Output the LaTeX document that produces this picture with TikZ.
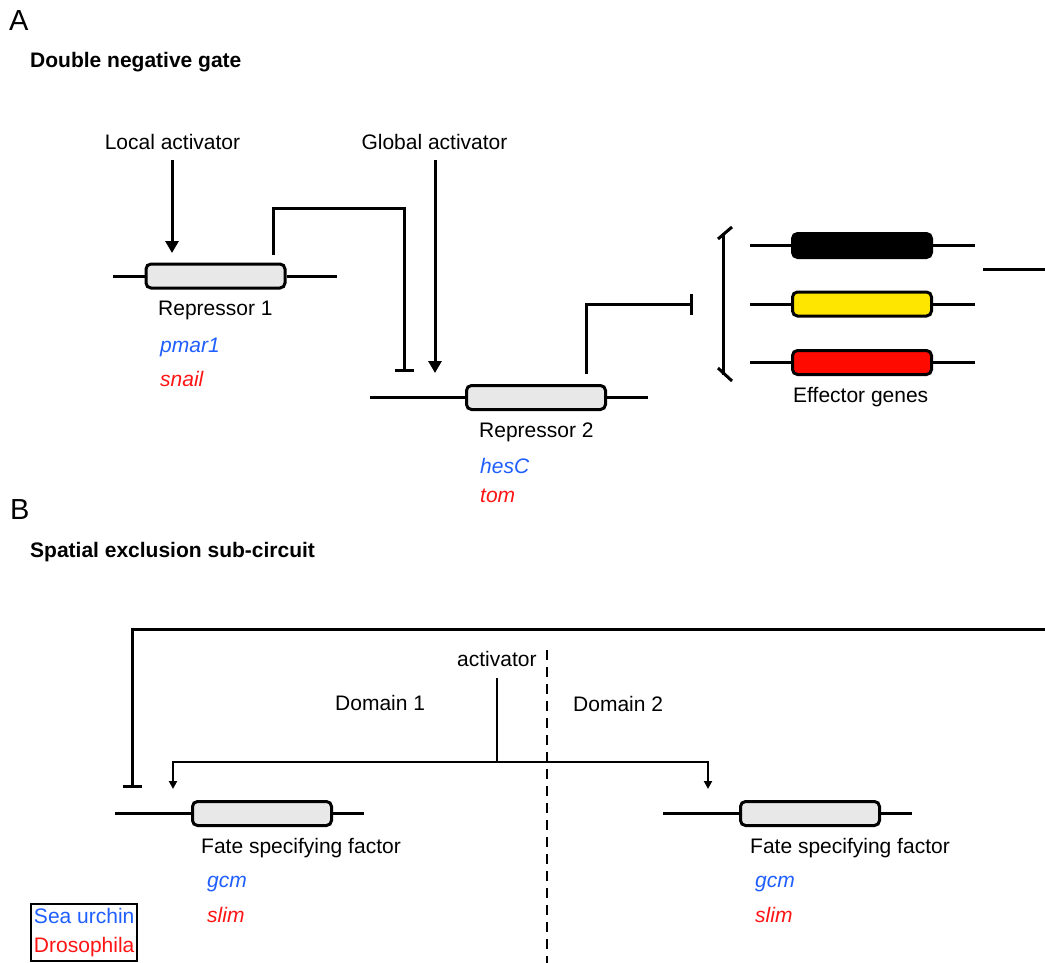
\documentclass[tikz,border=0pt]{standalone}
\usepackage{fontspec}
\setmainfont{Liberation Sans}
\usetikzlibrary{arrows.meta}
\definecolor{urchin}{HTML}{1F5FFF}
\definecolor{fly}{HTML}{FF1414}
\definecolor{genefill}{HTML}{E8E8E8}
\definecolor{effyellow}{HTML}{FFE600}
\definecolor{effred}{HTML}{FF0A00}
\tikzset{
  txt/.style={font=\fontsize{21}{25}\selectfont, inner sep=0pt, anchor=base west},
  ctxt/.style={font=\fontsize{21}{25}\selectfont, inner sep=0pt, anchor=base},
  head/.style={font=\bfseries\fontsize{21}{25}\selectfont, inner sep=0pt, anchor=base west},
  panel/.style={font=\fontsize{29}{33}\selectfont, inner sep=0pt, anchor=base west},
  sea/.style={txt, text=urchin, font=\itshape\fontsize{21}{25}\selectfont},
  dros/.style={txt, text=fly, font=\itshape\fontsize{21}{25}\selectfont},
  gene/.style={draw=black, line width=3pt, rounded corners=5pt, minimum width=139pt,
    minimum height=24pt, inner sep=0pt, fill=genefill},
  dna/.style={line width=3pt},
  act/.style={line width=3pt, -{Triangle[width=13pt,length=12pt]}},
  rep/.style={line width=3pt, -{Bar[width=19pt]}},
  thin act/.style={line width=2pt, -{Triangle[width=8pt,length=8pt]}},
}
\begin{document}
\begin{tikzpicture}[x=1pt,y=-1pt]
\useasboundingbox[fill=white] (0,0) rectangle (1045,963);

% ---------------- Panel A: double negative gate ----------------
\node[panel] (pA) at (9,31) {A};
\node[head] (hA) at (30,68) {Double negative gate};

% Repressor 1
\node[gene] (r1) at (215.5,276) {};
\coordinate (r1l) at (113,276);
\coordinate (r1r) at (337,276);
\draw[dna] (r1l) -- (r1.west);
\draw[dna] (r1.east) -- (r1r);
\node[txt] (r1n) at (158,315) {Repressor 1};
\node[sea] (r1s) at (160,352) {pmar1};
\node[dros] (r1d) at (160,386) {snail};

% Local activator input
\node[ctxt] (loc) at (172.5,150) {Local activator};
\coordinate (locin) at (172,253);
\draw[act] (loc.south -| locin) ++(0,10) -- (locin);

% Repressor 2
\node[gene] (r2) at (536,397.5) {};
\coordinate (r2l) at (370,397.5);
\coordinate (r2r) at (648,397.5);
\draw[dna] (r2l) -- (r2.west);
\draw[dna] (r2.east) -- (r2r);
\node[txt] (r2n) at (479,437) {Repressor 2};
\node[sea] (r2s) at (480,473) {hesC};
\node[dros] (r2d) at (480,502) {tom};

% Global activator input
\node[ctxt] (glob) at (434.5,150) {Global activator};
\coordinate (globin) at (435,373);
\draw[act] (glob.south -| globin) ++(0,10) -- (globin);

% Repressor 1 represses Repressor 2
\coordinate (r1out) at (273,255);
\coordinate (r2rep) at (404,372);
\draw[rep] (r1out) |- (404,209) -- (r2rep);

% Effector genes
\node[gene, fill=black] (e1) at (862,245.5) {};
\node[gene, fill=effyellow] (e2) at (862,304) {};
\node[gene, fill=effred] (e3) at (862,362.5) {};
\foreach \g in {e1,e2,e3}{
  \draw[dna] (\g.west) -- ++(-41,0);
  \draw[dna] (\g.east) -- ++(42,0);
}
\node[txt] (effn) at (793,402) {Effector genes};

% bracket grouping the effector genes
\coordinate (brt) at (723,233);
\coordinate (brb) at (723,375);
\draw[dna] (brt) -- (brb);
\draw[dna] (718,239) -- (732,227);
\draw[dna] (718,368) -- (732,381);

% Repressor 2 represses the effector genes
\coordinate (r2out) at (586,374);
\coordinate (effrep) at (693,304);
\draw[line width=3pt, -{Bar[width=21pt]}] (r2out) |- (effrep);

% line leaving to the right
\coordinate (outa) at (983,269);
\coordinate (outb) at (1045,269);
\draw[dna] (outa) -- (outb);

% ---------------- Panel B: spatial exclusion sub-circuit ----------------
\node[panel] (pB) at (10,519) {B};
\node[head] (hB) at (30,557) {Spatial exclusion sub-circuit};

% domain boundary
\coordinate (bndt) at (547,650);
\coordinate (bndb) at (547,963);
\draw[line width=2pt, dash pattern=on 10pt off 7pt] (bndt) -- (bndb);
\node[txt] (d1) at (335,710) {Domain 1};
\node[txt] (d2) at (573,711) {Domain 2};

% left fate specifying factor
\node[gene] (f1) at (262,813.5) {};
\coordinate (f1l) at (115,813.5);
\coordinate (f1r) at (364,813.5);
\draw[dna] (f1l) -- (f1.west);
\draw[dna] (f1.east) -- (f1r);
\node[txt] (f1n) at (201,853) {Fate specifying factor};
\node[sea] (f1s) at (207,887) {gcm};
\node[dros] (f1d) at (207,922) {slim};

% right fate specifying factor
\node[gene] (f2) at (810,813.5) {};
\coordinate (f2l) at (663,813.5);
\coordinate (f2r) at (912,813.5);
\draw[dna] (f2l) -- (f2.west);
\draw[dna] (f2.east) -- (f2r);
\node[txt] (f2n) at (750,853) {Fate specifying factor};
\node[sea] (f2s) at (755,887) {gcm};
\node[dros] (f2d) at (755,922) {slim};

% activator acting in both domains
\node[txt] (actv) at (457,666) {activator};
\coordinate (actb) at (497,678);
\coordinate (split) at (497,762);
\coordinate (in1) at (173,789);
\coordinate (in2) at (708,789);
\draw[line width=2pt] (actb) -- (split);
\draw[thin act] (split) -| (in1);
\draw[thin act] (split) -| (in2);
\draw[line width=2.6pt] (437,762) -- (split);

% repression fed back from the right
\coordinate (fbin) at (1045,629);
\coordinate (fbrep) at (132,788);
\draw[rep] (fbin) -| (fbrep);

% legend
\node[draw=black, line width=2pt, anchor=north west, inner xsep=3pt, inner ysep=4pt,
  align=left, font=\fontsize{21}{29}\selectfont] (legend) at (30,903)
  {\textcolor{urchin}{Sea urchin}\\\textcolor{fly}{Drosophila}};
\end{tikzpicture}
\end{document}
